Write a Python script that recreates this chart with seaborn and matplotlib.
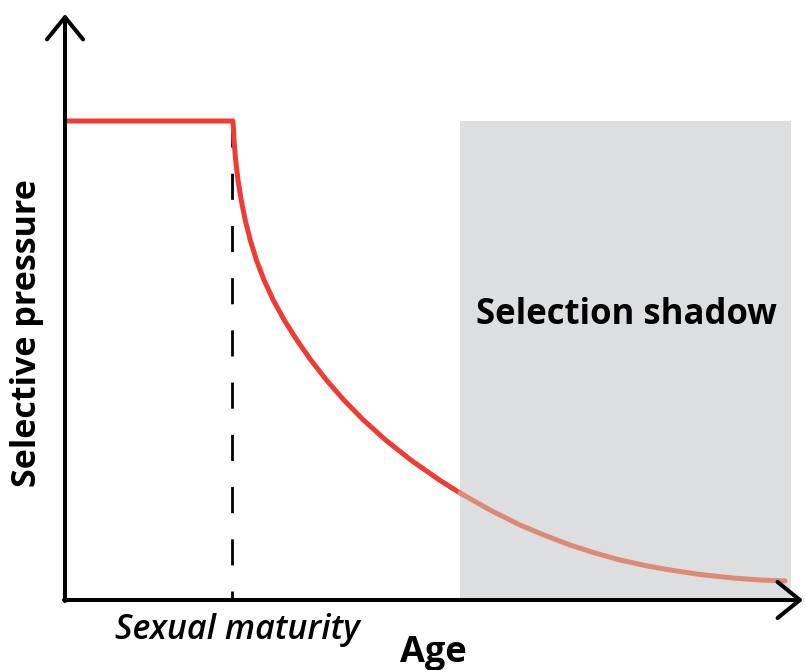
import matplotlib
matplotlib.use("Agg")
import matplotlib.pyplot as plt
import seaborn as sns
import pandas as pd

# schematic values (arbitrary units)
plateau_age = [0.02, 1.67]
plateau_pressure = [4.79, 4.79]

decay_age = [1.680, 1.690, 1.706, 1.730, 1.762, 1.802, 1.852, 1.914, 1.990,
             2.082, 2.192, 2.318, 2.458, 2.614, 2.788, 2.984, 3.206, 3.458,
             3.744, 3.950]
decay_pressure = [4.79, 4.60, 4.40, 4.20, 4.00, 3.80, 3.60, 3.40, 3.20,
                  3.00, 2.80, 2.60, 2.40, 2.20, 2.00, 1.80, 1.60, 1.40,
                  1.20, 1.07]

shadow_age = [3.95, 4.25, 4.55, 4.80, 5.05, 5.30, 5.55, 5.80, 6.02, 6.35,
              6.68, 6.95, 7.20]
shadow_pressure = [1.070, 0.900, 0.750, 0.645, 0.550, 0.470, 0.400, 0.345,
                   0.305, 0.255, 0.220, 0.200, 0.190]

maturity_age = 1.67
shadow_start, shadow_end = 3.95, 7.26
age_max, pressure_max = 7.38, 5.86

red = "#EE3B33"
faded = "#DC8A76"
grey = "#DDDEE0"

sns.set_theme(style="white")
plt.rcParams['font.family'] = ['Open Sans', 'DejaVu Sans']
plt.rcParams['text.color'] = "black"

fig = plt.figure(figsize=(8.05, 6.7), dpi=100)
ax = fig.add_axes([0, 0, 1, 1])

ax.fill_between([shadow_start, shadow_end], 0, plateau_pressure[0],
                color=grey, linewidth=0, zorder=1)

main = pd.DataFrame({"age": plateau_age + decay_age,
                     "pressure": plateau_pressure + decay_pressure})
tail = pd.DataFrame({"age": shadow_age, "pressure": shadow_pressure})

sns.lineplot(data=main, x="age", y="pressure", sort=False, color=red,
             linewidth=3.6, solid_joinstyle="round", ax=ax, zorder=3)
sns.lineplot(data=tail, x="age", y="pressure", sort=False, color=faded,
             linewidth=3.6, solid_joinstyle="round", ax=ax, zorder=3)

ax.plot([maturity_age, maturity_age], [plateau_pressure[0], 0], color="black",
        linewidth=2.0, dashes=(9.4, 9.4), zorder=2)

arrow = dict(arrowstyle="->,head_length=0.8,head_width=0.65", color="black",
             lw=2.9, shrinkA=0, shrinkB=0, mutation_scale=20)
ax.annotate("", xy=(age_max, 0), xytext=(-0.01, 0), arrowprops=arrow, zorder=4)
ax.annotate("", xy=(0, pressure_max), xytext=(0, -0.01), arrowprops=arrow, zorder=4)

ax.text(5.61, 2.85, "Selection shadow", fontsize=25, fontweight="bold",
        color="black", ha="center", va="center", zorder=5)
ax.text(-0.38, 2.67, "Selective pressure", fontsize=24.5, fontweight="bold",
        color="black", rotation=90, ha="center", va="center")
ax.text(3.68, -0.53, "Age", fontsize=26, fontweight="bold", color="black",
        ha="center", va="center")
ax.text(1.72, -0.30, "Sexual maturity", fontsize=24.5, fontstyle="italic",
        fontweight="semibold", color="black", ha="center", va="center")

ax.set_xlim(-0.65, 7.40)
ax.set_ylim(-0.70, 6.00)
ax.set_axis_off()

fig.savefig("out.png", dpi=100)
